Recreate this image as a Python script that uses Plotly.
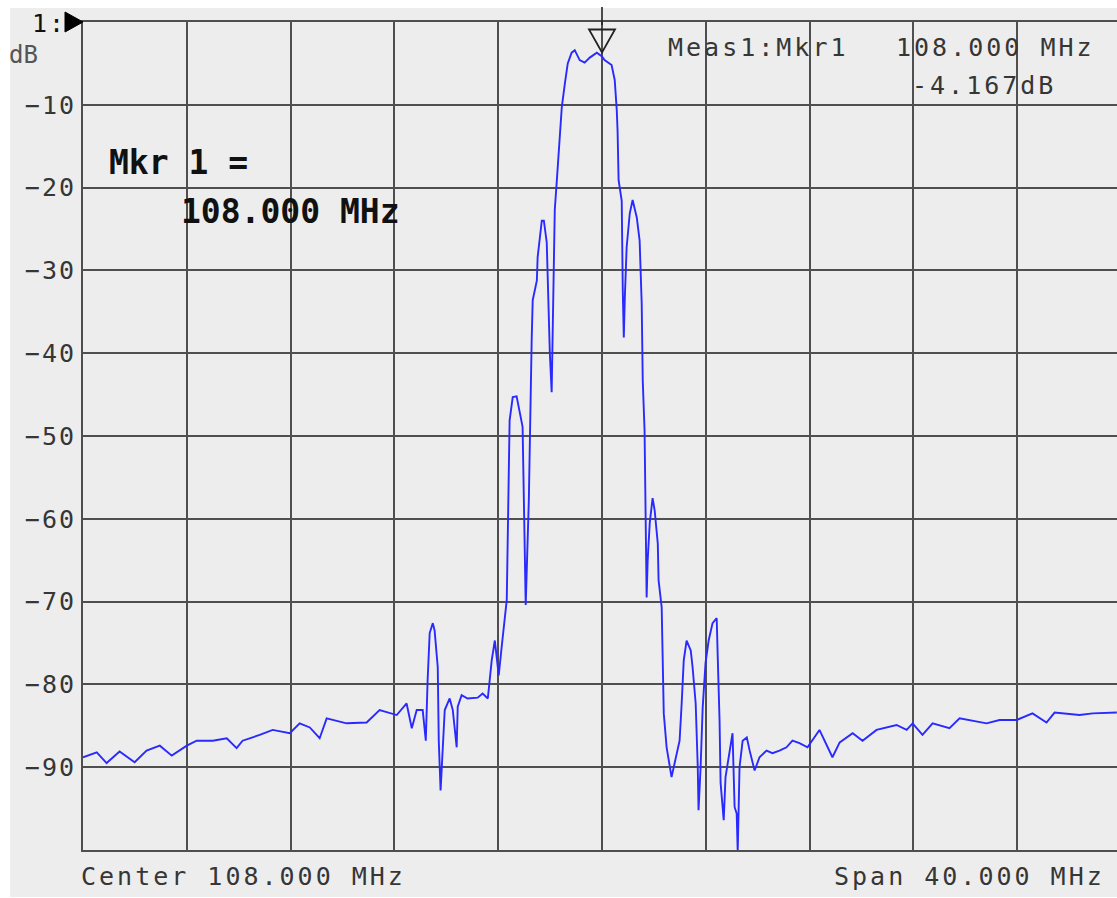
import plotly.graph_objects as go

# ---------------- data ----------------
freq_mhz = [
    88.00, 88.53, 88.91, 89.41, 89.99, 90.45, 90.96, 91.42, 92.00, 92.38,
    93.00, 93.54, 93.92, 94.15, 94.81, 95.31, 95.97, 96.35, 96.74, 97.12,
    97.39, 98.16, 98.93, 99.43, 100.09, 100.47, 100.67, 100.86, 101.09, 101.21,
    101.28, 101.36, 101.48, 101.55, 101.67, 101.71, 101.78, 101.86, 101.94, 102.13,
    102.25, 102.40, 102.44, 102.59, 102.82, 103.21, 103.40, 103.60, 103.67, 103.75,
    103.87, 103.94, 104.02, 104.13, 104.25, 104.33, 104.44, 104.56, 104.71, 104.83,
    104.94, 105.06, 105.18, 105.29, 105.33, 105.49, 105.52, 105.68, 105.76, 105.87,
    105.91, 105.99, 106.06, 106.10, 106.18, 106.26, 106.37, 106.45, 106.57, 106.68,
    106.83, 106.95, 107.14, 107.33, 107.53, 107.80, 108.00, 108.10, 108.37, 108.49,
    108.57, 108.60, 108.64, 108.76, 108.80, 108.84, 108.88, 108.95, 109.07, 109.18,
    109.34, 109.45, 109.53, 109.57, 109.64, 109.68, 109.72, 109.76, 109.84, 109.95,
    110.03, 110.15, 110.18, 110.30, 110.34, 110.38, 110.49, 110.61, 110.68, 110.80,
    110.99, 111.07, 111.15, 111.26, 111.42, 111.49, 111.61, 111.69, 111.72, 111.80,
    111.88, 111.99, 112.11, 112.26, 112.42, 112.46, 112.53, 112.57, 112.69, 112.76,
    112.92, 113.03, 113.11, 113.19, 113.23, 113.30, 113.42, 113.58, 113.69, 113.88,
    114.07, 114.34, 114.57, 114.84, 115.11, 115.34, 115.61, 115.92, 116.38, 116.88,
    117.16, 117.66, 118.04, 118.58, 119.35, 119.74, 119.97, 120.35, 120.74, 121.39,
    121.78, 122.82, 123.32, 123.98, 124.59, 125.13, 125.44, 126.40, 126.91, 127.45,
    127.84,
]
level_db = [
    -88.8, -88.2, -89.5, -88.1, -89.4, -88.0, -87.4, -88.6, -87.4, -86.8,
    -86.8, -86.5, -87.7, -86.8, -86.1, -85.5, -85.9, -84.7, -85.2, -86.5,
    -84.1, -84.7, -84.6, -83.1, -83.7, -82.3, -85.3, -83.1, -83.1, -86.8,
    -79.5, -73.8, -72.6, -73.5, -77.9, -86.8, -92.8, -87.1, -83.1, -81.7,
    -83.1, -87.6, -82.7, -81.3, -81.7, -81.6, -81.1, -81.7, -79.5, -77.1,
    -74.7, -76.7, -78.9, -75.6, -72.3, -69.8, -48.1, -45.3, -45.2, -47.3,
    -48.9, -70.4, -57.8, -38.4, -33.6, -31.2, -28.4, -24.0, -24.0, -26.6,
    -31.6, -40.0, -44.7, -35.2, -22.7, -19.1, -13.1, -10.3, -7.4, -5.0,
    -3.7, -3.4, -4.6, -4.9, -4.3, -3.7, -4.167, -4.6, -5.2, -7.0,
    -10.7, -13.1, -19.1, -21.6, -32.4, -38.1, -33.2, -27.2, -23.1, -21.5,
    -23.6, -26.4, -34.0, -43.3, -49.3, -59.0, -69.5, -65.0, -60.5, -57.5,
    -59.0, -63.0, -67.4, -70.7, -75.9, -83.5, -87.6, -90.0, -91.2, -89.5,
    -86.8, -82.3, -77.1, -74.7, -75.9, -77.9, -82.3, -90.0, -95.2, -90.0,
    -82.8, -77.4, -74.7, -72.6, -72.0, -76.7, -84.3, -91.9, -96.4, -91.2,
    -88.3, -85.9, -94.8, -95.6, -100.2, -90.0, -86.8, -86.4, -88.0, -90.4,
    -88.8, -88.0, -88.3, -88.0, -87.6, -86.8, -87.1, -87.6, -85.5, -88.8,
    -87.0, -85.9, -86.8, -85.5, -84.9, -85.5, -84.7, -86.1, -84.7, -85.3,
    -84.1, -84.7, -84.3, -84.3, -83.5, -84.6, -83.4, -83.7, -83.5, -83.4,
    -83.4,
]
y_tick_vals = [-90, -80, -70, -60, -50, -40, -30, -20, -10]
x_grid_mhz = [92, 96, 100, 104, 108, 112, 116, 120, 124]
center_mhz = 108.0
span_mhz = 40.0
marker_mhz = 108.0
marker_db = -4.167

# ---------------- layout geometry ----------------
W, H = 1117, 898
ML, MR, MT, MB = 83, 0, 22, 48
PW, PH = W - ML - MR, H - MT - MB


def px(x):
    return (x - ML) / PW


def py(y):
    return (H - MB - y) / PH


x_lo = center_mhz - span_mhz / 2
x_hi = x_lo + span_mhz * PW / 1038.0  # screen is slightly wider than the window

GRID = "#4f4f4f"
BG = "#ededed"
TXT = "#363636"
MONO = "DejaVu Sans Mono"


def spaced(s, sp):
    return f"<span style='letter-spacing:{sp}px'>{s}</span>"


fig = go.Figure()
fig.add_trace(go.Scatter(
    x=freq_mhz, y=level_db, mode="lines",
    line=dict(color="#2a2aff", width=1.9), hoverinfo="skip",
))

fig.update_layout(
    width=W, height=H,
    margin=dict(l=ML, r=MR, t=MT, b=MB, pad=0),
    paper_bgcolor="white", plot_bgcolor="rgba(0,0,0,0)",
    showlegend=False,
)
fig.update_xaxes(
    range=[x_lo, x_hi], tickvals=x_grid_mhz, showticklabels=False,
    showgrid=True, gridcolor=GRID, gridwidth=2,
    showline=True, linecolor=GRID, linewidth=2, mirror=True,
    zeroline=False, ticks="",
)
fig.update_yaxes(
    range=[-100, 0], tickvals=y_tick_vals,
    ticktext=[spaced(f"\u2212{abs(v)}", 2) for v in y_tick_vals],
    tickfont=dict(family=MONO, size=25, color=TXT),
    showgrid=True, gridcolor=GRID, gridwidth=2,
    showline=True, linecolor=GRID, linewidth=2,
    zeroline=False, ticks="",
)

shapes = [
    # grey screen background
    dict(type="rect", xref="paper", yref="paper", x0=px(10), x1=px(1117),
         y0=py(897), y1=py(8), fillcolor=BG, line=dict(width=0), layer="below"),
    # reference-level arrow
    dict(type="path", xref="paper", yref="paper",
         path=f"M {px(65)},{py(12)} L {px(83)},{py(22)} L {px(65)},{py(32)} Z",
         fillcolor="black", line=dict(color="black", width=1)),
    # marker triangle
    dict(type="path", xref="x", yref="y", xsizemode="pixel", ysizemode="pixel",
         xanchor=marker_mhz, yanchor=marker_db,
         path="M -13,27 L 13,27 L 0,4 Z",
         fillcolor="rgba(0,0,0,0)", line=dict(color="#222222", width=1.8)),
    # marker tick above the screen
    dict(type="line", xref="x", yref="paper", x0=marker_mhz, x1=marker_mhz,
         y0=py(25), y1=py(7), line=dict(color="#222222", width=1.6)),
]
fig.update_layout(shapes=shapes)


def label(text, x, y, size, bold=False, color=TXT, sp=0):
    t = spaced(text, sp) if sp else text
    if bold:
        t = f"<b>{t}</b>"
    return dict(text=t, xref="paper", yref="paper", x=px(x), y=py(y),
                xanchor="left", yanchor="middle", showarrow=False,
                font=dict(family=MONO, size=size, color=color),
                borderpad=0, borderwidth=0)


annotations = [
    label("1:", 32, 23, 25, color="#111111", sp=2),
    label("dB", 9, 55, 24, color="#555555"),
    label("Mkr 1 =", 109, 163, 33, bold=True, color="#111111"),
    label(f"{center_mhz:.3f} MHz", 181, 211, 33, bold=True, color="#111111"),
    label("Meas1:Mkr1", 668, 47, 25, sp=3),
    label(f"{marker_mhz:.3f} MHz", 896, 47, 25, sp=3),
    label(f"{marker_db:.3f}dB", 912, 85, 25, sp=3),
    label(f"Center {center_mhz:.3f} MHz", 81, 877, 25, sp=3),
    label(f"Span {span_mhz:.3f} MHz", 834, 877, 25, sp=3),
]
fig.update_layout(annotations=annotations)

fig.write_html(
    "out.html",
    config={"displayModeBar": False},
    post_script="document.body.style.margin='0';document.body.style.overflow='hidden';",
)
